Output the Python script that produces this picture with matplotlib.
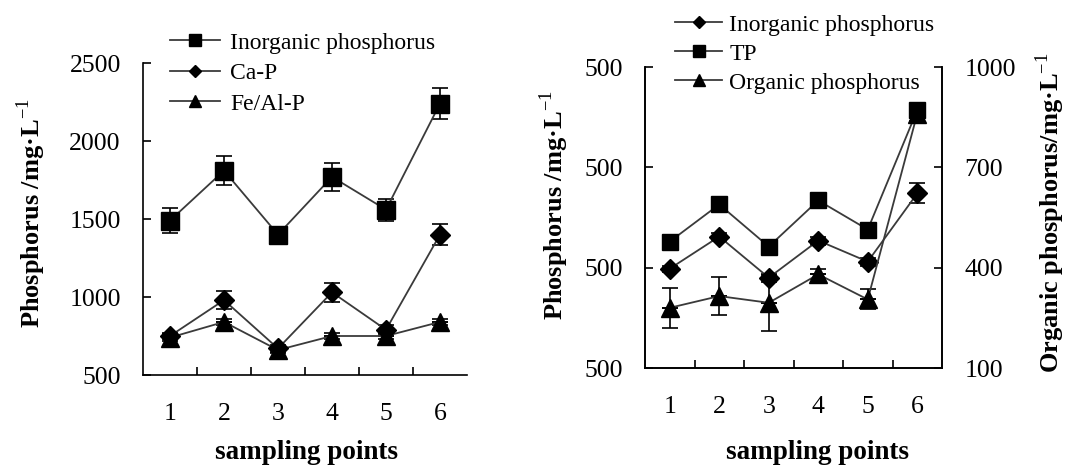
import numpy as np
import matplotlib.pyplot as plt
from matplotlib.lines import Line2D

plt.rcParams['font.family'] = ['Liberation Serif', 'DejaVu Serif']
plt.rcParams['mathtext.fontset'] = 'custom'
plt.rcParams['mathtext.rm'] = 'Liberation Serif'
plt.rcParams['mathtext.bf'] = 'Liberation Serif:bold'

# sampling points
points = [1, 2, 3, 4, 5, 6]
point_labels = ['1', '2', '3', '4', '5', '6']

# left panel (mg/L)
inorg_p = [1490, 1810, 1400, 1770, 1560, 2240]
inorg_p_err = [80, 95, 30, 90, 70, 100]
ca_p = [750, 980, 670, 1030, 790, 1400]
ca_p_err = [20, 60, 20, 60, 30, 65]
feal_p = [740, 840, 660, 750, 750, 840]
feal_p_err = [20, 20, 20, 20, 20, 20]

# right panel
inorg_p_r_err = [30, 40, 40, 40, 40, 100]
tp = [1760, 2130, 1710, 2170, 1880, 3070]
tp_err = [20, 20, 20, 20, 20, 20]
org_p = [280, 315, 295, 380, 305, 860]
org_p_err = [60, 58, 83, 15, 30, 20]

left_ticks = [500, 1000, 1500, 2000, 2500]
right_left_ticks = [500, 1500, 2500, 3500]
right_left_labels = ['500', '500', '500', '500']
org_ticks = [100, 400, 700, 1000]

LINE = '#3a3a3a'
FS = 17
TFS = 18.5
W, H = 1076, 469


def px_rect(x0, y0, x1, y1):
    """axes rect from pixel box (top-left origin)"""
    return [x0 / W, 1 - y1 / H, (x1 - x0) / W, (y1 - y0) / H]


def series(ax, y, err, marker, ms, low_color='k'):
    ax.errorbar(points, y, yerr=[[0] * 6, err], fmt='none', ecolor='k',
                elinewidth=1.2, capsize=6, capthick=1.2, zorder=2)
    ax.errorbar(points, y, yerr=[err, [0] * 6], fmt='none', ecolor=low_color,
                elinewidth=1.2, capsize=6, capthick=1.2, zorder=2)
    ax.plot(points, y, color=LINE, lw=1.3, zorder=3)
    ax.plot(points, y, ls='none', marker=marker, ms=ms, mfc='k', mec='k', zorder=4)


def style(ax, right_spine=False):
    ax.set_xlim(0.5, 6.5)
    ax.spines['top'].set_visible(False)
    ax.spines['right'].set_visible(right_spine)
    for s in ax.spines.values():
        s.set_linewidth(1.2)
    ax.set_xticks([1.5, 2.5, 3.5, 4.5, 5.5])
    ax.set_xticklabels([])
    ax.set_xticks(points, minor=True)
    ax.set_xticklabels(point_labels, minor=True)
    ax.tick_params(axis='x', which='major', direction='in', length=6, width=1.2)
    ax.tick_params(axis='x', which='minor', length=0, pad=20, labelsize=TFS)
    ax.tick_params(axis='y', direction='in', length=6, width=1.2, pad=16, labelsize=TFS)


fig = plt.figure(figsize=(W / 100, H / 100), dpi=100)

# ---- left panel
ax1 = fig.add_axes(px_rect(143, 63, 467, 375))
series(ax1, feal_p, feal_p_err, '^', 13.5)
series(ax1, ca_p, ca_p_err, 'D', 10.5)
series(ax1, inorg_p, inorg_p_err, 's', 13)
ax1.set_ylim(500, 2500)
ax1.set_yticks(left_ticks)
style(ax1)

h1 = [Line2D([], [], color=LINE, lw=1.3, marker='s', ms=8.5, mfc='k', mec='k'),
      Line2D([], [], color=LINE, lw=1.3, marker='D', ms=6.5, mfc='k', mec='k'),
      Line2D([], [], color=LINE, lw=1.3, marker='^', ms=9, mfc='k', mec='k')]
fig.legend(h1, ['Inorganic phosphorus', 'Ca-P', 'Fe/Al-P'], loc='upper left',
           bbox_to_anchor=(170 / W, 1 - 32 / H), frameon=False, fontsize=FS,
           borderpad=0, borderaxespad=0, handlelength=2.1, handletextpad=0.45,
           labelspacing=0.38)

fig.text(31 / W, 1 - 213 / H, r'Phosphorus /mg·L$^{-1}$', rotation=90,
         ha='center', va='center', fontsize=19, fontweight='bold')
fig.text(306 / W, 1 - 452 / H, 'sampling points', ha='center', va='center',
         fontsize=19.5, fontweight='bold')

# ---- right panel
ax2 = fig.add_axes(px_rect(645, 67, 942, 368))
series(ax2, tp, tp_err, 's', 12)
series(ax2, inorg_p, inorg_p_r_err, 'D', 10)
ax2.set_ylim(500, 3500)
ax2.set_yticks(right_left_ticks)
ax2.set_yticklabels(right_left_labels)
style(ax2, right_spine=True)

ax3 = ax2.twinx()
series(ax3, org_p, org_p_err, '^', 13)
ax3.set_ylim(100, 1000)
ax3.set_yticks(org_ticks)
ax3.spines['top'].set_visible(False)
for s in ax3.spines.values():
    s.set_linewidth(1.2)
ax3.tick_params(axis='y', direction='in', length=6, width=1.2, pad=16, labelsize=TFS)

h2 = [Line2D([], [], color=LINE, lw=1.3, marker='D', ms=6.5, mfc='k', mec='k'),
      Line2D([], [], color=LINE, lw=1.3, marker='s', ms=8.5, mfc='k', mec='k'),
      Line2D([], [], color=LINE, lw=1.3, marker='^', ms=9, mfc='k', mec='k')]
fig.legend(h2, ['Inorganic phosphorus', 'TP', 'Organic phosphorus'], loc='upper left',
           bbox_to_anchor=(675 / W, 1 - 14 / H), frameon=False, fontsize=FS,
           borderpad=0, borderaxespad=0, handlelength=2.0, handletextpad=0.3,
           labelspacing=0.32)

fig.text(554 / W, 1 - 205 / H, r'Phosphorus /mg·L$^{-1}$', rotation=90,
         ha='center', va='center', fontsize=19, fontweight='bold')
fig.text(1050 / W, 1 - 213 / H, r'Organic phosphorus/mg·L$^{-1}$', rotation=90,
         ha='center', va='center', fontsize=19, fontweight='bold')
fig.text(818 / W, 1 - 452 / H, 'sampling points', ha='center', va='center',
         fontsize=19.5, fontweight='bold')

fig.savefig('out.png', dpi=100)
